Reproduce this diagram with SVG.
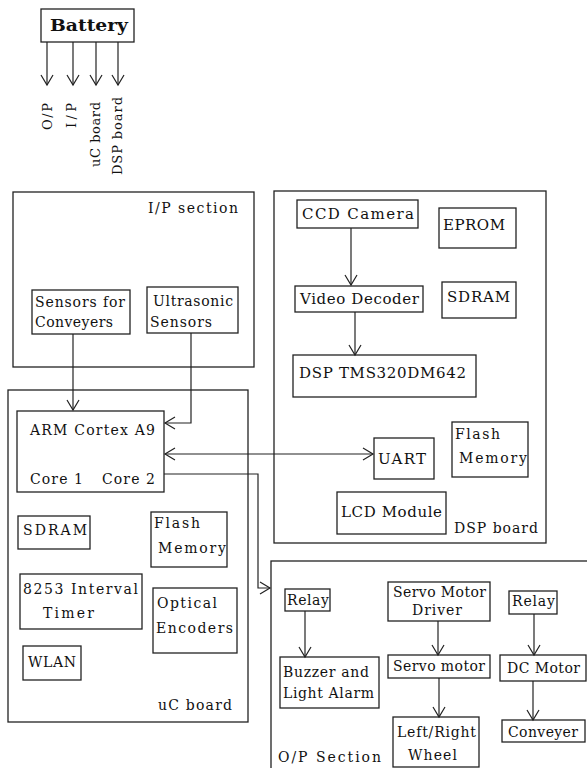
<svg xmlns="http://www.w3.org/2000/svg" width="587" height="768" viewBox="0 0 587 768">
<style>
.b{fill:#fff;stroke:#222;stroke-width:1.3}
.c{fill:none;stroke:#222;stroke-width:1.2}
text{font-family:"DejaVu Serif","Liberation Serif",serif;font-size:14px;fill:#111}
.d{font-size:15px}
.r{font-size:13px}
.bat{font-weight:bold;font-size:17px}
</style>
<defs>
<marker id="ah" markerUnits="userSpaceOnUse" markerWidth="14" markerHeight="14" viewBox="-12 -7 14 14" refX="0" refY="0" orient="auto-start-reverse">
<path d="M-10,-6 L0,0 L-10,6" fill="none" stroke="#222" stroke-width="1.2"/>
</marker>
</defs>
<rect width="587" height="768" fill="#fff"/>

<g id="battery">
<rect class="b" x="41" y="9" width="93" height="33"/>
<text class="bat" x="50" y="31" textLength="78" lengthAdjust="spacingAndGlyphs">Battery</text>
</g>
<g id="battery-labels">
<text class="r" transform="translate(52,130) rotate(-90)" textLength="27">O/P</text>
<text class="r" transform="translate(76,128) rotate(-90)" textLength="25">I/P</text>
<text class="r" transform="translate(100,167) rotate(-90)" textLength="65">uC board</text>
<text class="r" transform="translate(122,175) rotate(-90)" textLength="78">DSP board</text>
</g>

<g id="ip-section">
<rect class="b" x="13" y="192" width="241" height="175"/>
<text x="148" y="213" textLength="90">I/P section</text>
</g>
<g id="sensors-conveyers">
<rect class="b" x="32" y="290" width="98" height="44"/>
<text x="35" y="307" textLength="90">Sensors for</text>
<text x="35" y="327" textLength="78">Conveyers</text>
</g>
<g id="ultrasonic">
<rect class="b" x="147" y="287" width="91" height="46"/>
<text x="153" y="306" textLength="80">Ultrasonic</text>
<text x="150" y="327" textLength="62">Sensors</text>
</g>

<g id="uc-board">
<rect class="b" x="8" y="390" width="240" height="332"/>
<text x="158" y="710" textLength="74">uC board</text>
</g>
<g id="arm">
<rect class="b" x="17" y="411" width="147" height="81"/>
<text x="30" y="435" textLength="125">ARM Cortex A9</text>
<text x="30" y="484" textLength="53">Core 1</text>
<text x="102" y="484" textLength="53">Core 2</text>
</g>
<g id="uc-sdram">
<rect class="b" x="18" y="516" width="72" height="33"/>
<text x="23" y="535" textLength="64">SDRAM</text>
</g>
<g id="uc-flash">
<rect class="b" x="151" y="512" width="76" height="55"/>
<text x="154" y="528" textLength="46">Flash</text>
<text x="158" y="553" textLength="68">Memory</text>
</g>
<g id="timer">
<rect class="b" x="20" y="574" width="122" height="55"/>
<text x="23" y="594" textLength="115">8253 Interval</text>
<text x="43" y="618" textLength="51">Timer</text>
</g>
<g id="encoders">
<rect class="b" x="153" y="588" width="84" height="65"/>
<text x="157" y="608" textLength="60">Optical</text>
<text x="156" y="633" textLength="77">Encoders</text>
</g>
<g id="wlan">
<rect class="b" x="23" y="646" width="58" height="34"/>
<text x="28" y="667" textLength="48">WLAN</text>
</g>

<g id="dsp-board">
<rect class="b" x="274" y="191" width="272" height="352"/>
<text x="454" y="533" textLength="84">DSP board</text>
</g>
<g id="ccd">
<rect class="b" x="297" y="200" width="121" height="28"/>
<text class="d" x="302" y="219" textLength="112">CCD Camera</text>
</g>
<g id="eprom">
<rect class="b" x="439" y="208" width="77" height="40"/>
<text class="d" x="443" y="230" textLength="62">EPROM</text>
</g>
<g id="video-decoder">
<rect class="b" x="295" y="286" width="128" height="26"/>
<text class="d" x="300" y="304" textLength="119">Video Decoder</text>
</g>
<g id="dsp-sdram">
<rect class="b" x="442" y="282" width="74" height="36"/>
<text class="d" x="447" y="302" textLength="63">SDRAM</text>
</g>
<g id="dsp-chip">
<rect class="b" x="293" y="355" width="183" height="42"/>
<text class="d" x="299" y="378" textLength="167">DSP TMS320DM642</text>
</g>
<g id="dsp-flash">
<rect class="b" x="452" y="422" width="76" height="55"/>
<text x="455" y="439" textLength="45">Flash</text>
<text x="459" y="463" textLength="68">Memory</text>
</g>
<g id="uart">
<rect class="b" x="374" y="438" width="60" height="41"/>
<text class="d" x="378" y="464" textLength="48">UART</text>
</g>
<g id="lcd">
<rect class="b" x="337" y="492" width="109" height="42"/>
<text class="d" x="341" y="517" textLength="101">LCD Module</text>
</g>

<g id="op-section">
<rect class="b" x="271" y="561" width="340" height="230"/>
<text x="278" y="762" textLength="103">O/P Section</text>
</g>
<g id="relay1">
<rect class="b" x="285" y="589" width="45" height="22"/>
<text x="287" y="605" textLength="42">Relay</text>
</g>
<g id="buzzer">
<rect class="b" x="280" y="657" width="99" height="51"/>
<text x="283" y="677" textLength="86">Buzzer and</text>
<text x="283" y="698" textLength="91">Light Alarm</text>
</g>
<g id="servo-driver">
<rect class="b" x="388" y="582" width="102" height="39"/>
<text x="393" y="597" textLength="93">Servo Motor</text>
<text x="412" y="615" textLength="50">Driver</text>
</g>
<g id="servo-motor">
<rect class="b" x="388" y="655" width="102" height="23"/>
<text x="393" y="671" textLength="92">Servo motor</text>
</g>
<g id="wheel">
<rect class="b" x="393" y="717" width="86" height="50"/>
<text x="397" y="737" textLength="79">Left/Right</text>
<text x="408" y="760" textLength="49">Wheel</text>
</g>
<g id="relay2">
<rect class="b" x="509" y="591" width="48" height="23"/>
<text x="512" y="606" textLength="43">Relay</text>
</g>
<g id="dc-motor">
<rect class="b" x="500" y="655" width="86" height="26"/>
<text x="507" y="673" textLength="73">DC Motor</text>
</g>
<g id="conveyer">
<rect class="b" x="502" y="720" width="83" height="22"/>
<text x="508" y="737" textLength="70">Conveyer</text>
</g>

<g id="connectors">
<line class="c" x1="47" y1="42" x2="47" y2="85" marker-end="url(#ah)"/>
<line class="c" x1="73" y1="42" x2="73" y2="85" marker-end="url(#ah)"/>
<line class="c" x1="96" y1="42" x2="96" y2="85" marker-end="url(#ah)"/>
<line class="c" x1="118" y1="42" x2="118" y2="85" marker-end="url(#ah)"/>
<line class="c" x1="73" y1="334" x2="73" y2="410" marker-end="url(#ah)"/>
<polyline class="c" points="191,333 191,423 165,423" marker-end="url(#ah)"/>
<line class="c" x1="165" y1="454" x2="373" y2="454" marker-start="url(#ah)" marker-end="url(#ah)"/>
<polyline class="c" points="164,474 258,474 258,588 270,588" marker-end="url(#ah)"/>
<line class="c" x1="351" y1="228" x2="351" y2="285" marker-end="url(#ah)"/>
<line class="c" x1="355" y1="312" x2="355" y2="355" marker-end="url(#ah)"/>
<line class="c" x1="305" y1="611" x2="305" y2="657" marker-end="url(#ah)"/>
<line class="c" x1="438" y1="621" x2="438" y2="655" marker-end="url(#ah)"/>
<line class="c" x1="439" y1="678" x2="439" y2="717" marker-end="url(#ah)"/>
<line class="c" x1="534" y1="614" x2="534" y2="655" marker-end="url(#ah)"/>
<line class="c" x1="533" y1="681" x2="533" y2="720" marker-end="url(#ah)"/>
</g>
</svg>
